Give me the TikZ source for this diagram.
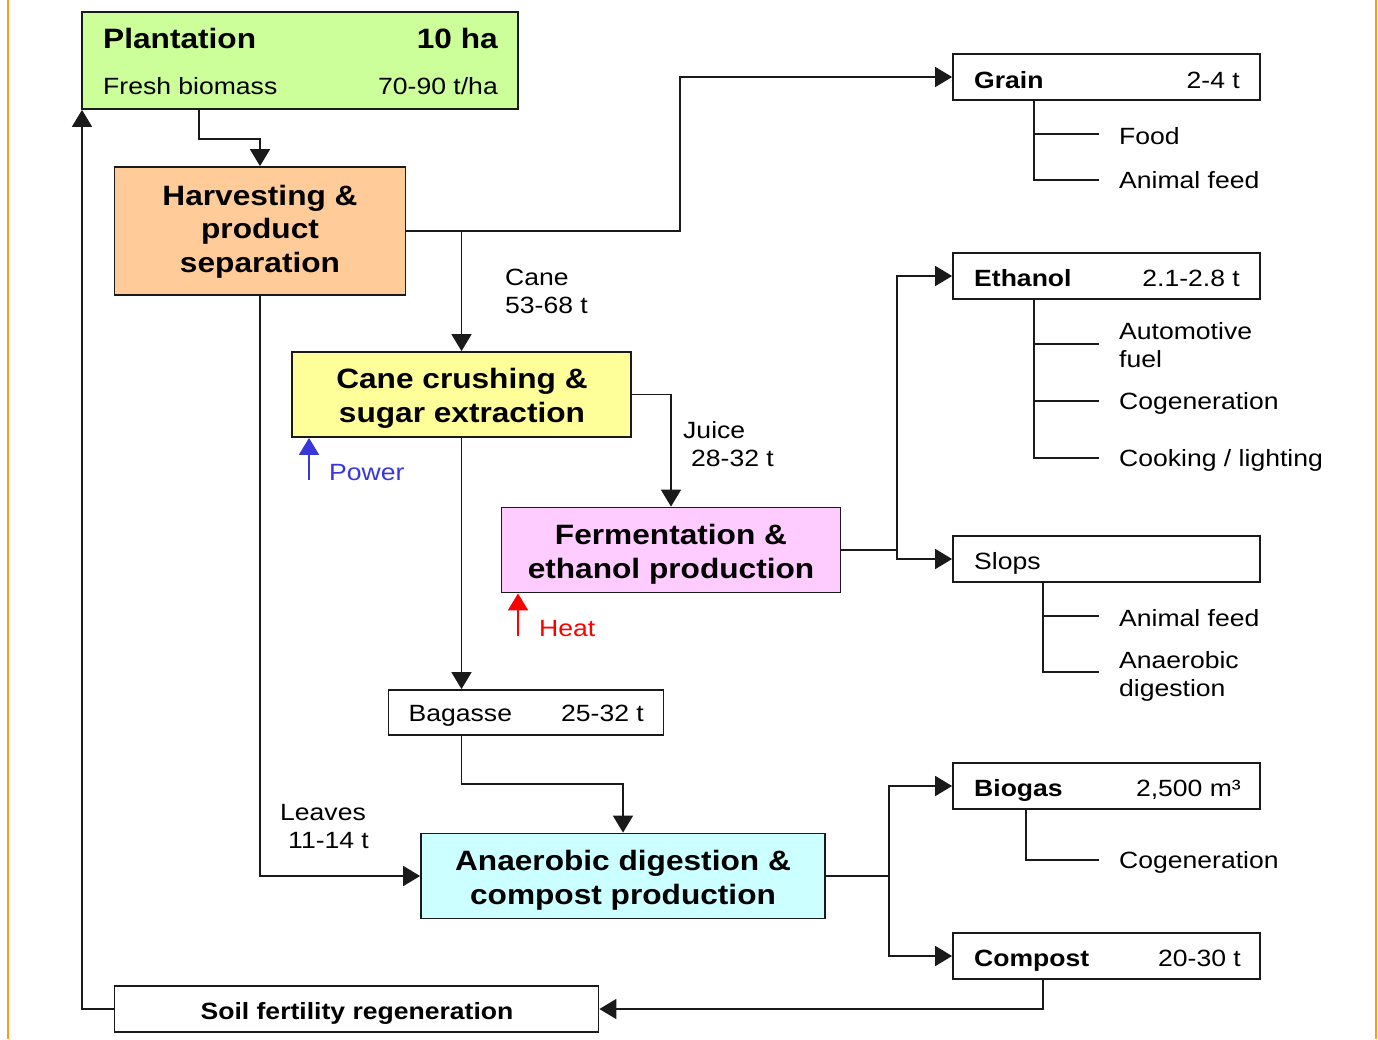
\documentclass[tikz,border=0pt]{standalone}
\usepackage{fontspec}
\setmainfont{Liberation Sans}[FakeStretch=1.13]
\usetikzlibrary{arrows.meta}
\definecolor{cgreen}{HTML}{CCFF99}
\definecolor{corange}{HTML}{FFCC99}
\definecolor{cyellow}{HTML}{FFFF99}
\definecolor{cpink}{HTML}{FFCCFF}
\definecolor{ccyan}{HTML}{CCFFFF}
\definecolor{lc}{HTML}{1A1A1A}
\definecolor{frame}{HTML}{F7A11A}
\definecolor{pblue}{HTML}{3838D8}
\definecolor{hred}{HTML}{FF0000}
\newcommand\fsr{\fontsize{23.5}{28}\selectfont}
\newcommand\fsb{\fontsize{23.5}{28}\selectfont\bfseries}
\newcommand\fsbig{\fontsize{28}{33.5}\selectfont\bfseries}
\begin{document}
\begin{tikzpicture}[x=1pt,y=-1pt,
  box/.style={draw=lc, line width=1.8pt, inner sep=0pt},
  con/.style={draw=lc, line width=1.8pt, line join=miter},
  arr/.style={con, -{Triangle[length=17pt,width=20pt]}},
  txt/.style={inner sep=0pt, anchor=base west, font=\fsr, align=left},
  txtr/.style={inner sep=0pt, anchor=base east, font=\fsr},
  btxt/.style={inner sep=0pt, anchor=base west, font=\fsb},
  ttl/.style={inner sep=0pt, anchor=base, align=center, font=\fsbig}]
\useasboundingbox (0,0) rectangle (1378,1039);
\fill[white] (0,0) rectangle (1378,1039);
\coordinate (fl1) at (8,0); \coordinate (fl2) at (8,1039);
\coordinate (fr1) at (1376,0); \coordinate (fr2) at (1376,1039);
\draw[frame, line width=2.5pt] (fl1) -- (fl2);
\draw[frame, line width=2.5pt] (fr1) -- (fr2);

% boxes
\node[box, fill=cgreen, minimum width=436pt, minimum height=97pt] (plant) at (300,60.5) {};
\node[box, fill=corange, minimum width=291pt, minimum height=128pt] (harv) at (260,231) {};
\node[box, fill=cyellow, minimum width=339pt, minimum height=85pt] (cane) at (461.5,394.5) {};
\node[box, fill=cpink, minimum width=339pt, minimum height=85pt] (ferm) at (671,550) {};
\node[box, fill=white, minimum width=275pt, minimum height=45pt] (bag) at (526,712.5) {};
\node[box, fill=ccyan, minimum width=404pt, minimum height=85pt] (anae) at (623,876) {};
\node[box, fill=white, minimum width=484pt, minimum height=46pt] (soil) at (356.5,1009) {};
\node[box, fill=white, minimum width=307pt, minimum height=46pt] (grain) at (1106.5,77) {};
\node[box, fill=white, minimum width=307pt, minimum height=46pt] (eth) at (1106.5,276) {};
\node[box, fill=white, minimum width=307pt, minimum height=46pt] (slops) at (1106.5,559) {};
\node[box, fill=white, minimum width=307pt, minimum height=46pt] (biogas) at (1106.5,786) {};
\node[box, fill=white, minimum width=307pt, minimum height=46pt] (compost) at (1106.5,956) {};

% texts in boxes (multi-line nodes: base = last line baseline)
\node[inner sep=0pt, anchor=base west, font=\fsbig] (plantT) at (103,48) {Plantation};
\node[inner sep=0pt, anchor=base east, font=\fsbig] (plantV) at (498,48) {10 ha};
\node[txt] (plantF) at (103,94) {Fresh biomass};
\node[txtr] (plantR) at (498,94) {70-90 t/ha};
\node[ttl] (harvT) at (260,272) {Harvesting \&\\product\\separation};
\node[ttl] (caneT) at (462,422) {Cane crushing \&\\sugar extraction};
\node[ttl] (fermT) at (671,578) {Fermentation \&\\ethanol production};
\node[ttl] (anaeT) at (623,904) {Anaerobic digestion \&\\compost production};
\node[inner sep=0pt, anchor=base, font=\fsb] (soilT) at (357,1019) {Soil fertility regeneration};
\node[txt] (bagT) at (408.5,721) {Bagasse};
\node[txtr] (bagV) at (644,721) {25-32 t};
\node[btxt] (grainT) at (974,88) {Grain};
\node[txtr] (grainV) at (1240,88) {2-4 t};
\node[btxt] (ethT) at (974,286) {Ethanol};
\node[txtr] (ethV) at (1240,286) {2.1-2.8 t};
\node[txt] (slopsT) at (974,569) {Slops};
\node[btxt] (bioT) at (974,796) {Biogas};
\node[txtr] (bioV) at (1241,796) {2,500 m³};
\node[btxt] (compT) at (974,966) {Compost};
\node[txtr] (compV) at (1241,966) {20-30 t};

% flow labels
\node[txt] (caneL) at (505,313.5) {Cane\\53-68 t};
\node[txt] (juiceL) at (683,466) {Juice\\\hspace*{8pt}28-32 t};
\node[txt] (leavesL) at (280,848) {Leaves\\\hspace*{8pt}11-14 t};
\node[txt, text=pblue] (powerL) at (329,480) {Power};
\node[txt, text=hred] (heatL) at (539,636) {Heat};

% use labels
\node[txt] (food) at (1119,144) {Food};
\node[txt] (feed1) at (1119,188.5) {Animal feed};
\node[txt] (auto) at (1119,367) {Automotive\\fuel};
\node[txt] (cogen1) at (1119,409.5) {Cogeneration};
\node[txt] (cook) at (1119,466) {Cooking / lighting};
\node[txt] (feed2) at (1119,626) {Animal feed};
\node[txt] (anaer) at (1119,696) {Anaerobic\\digestion};
\node[txt] (cogen2) at (1119,868.5) {Cogeneration};

% junction coordinates
\coordinate (p1) at (199,139);
\coordinate (g1) at (680,0);
\coordinate (b1) at (0,784);
\coordinate (f1) at (897,0);
\coordinate (a1) at (889,0);
\coordinate (c1) at (1043,0);
\coordinate (s1) at (82,0);
\coordinate (pw) at (309,480);
\coordinate (ht) at (518,636);

% connectors
\draw[arr] (p1 |- plant.south) -- (p1) -| (harv.north);
\draw[arr] (harv.east) -| (g1 |- grain.west) -- (grain.west);
\draw[arr] (harv.east -| cane.north) -- (cane.north);
\draw[arr] (harv.south) |- (anae.west);
\draw[arr] (cane.east) -| (ferm.north);
\draw[arr] (cane.south) -- (cane.south |- bag.north);
\draw[arr] (cane.south |- bag.south) -- (cane.south |- b1) -| (anae.north);
\draw[con] (ferm.east) -- (ferm.east -| f1);
\draw[arr] (ferm.east -| f1) |- (eth.west);
\draw[arr] (ferm.east -| f1) |- (slops.west);
\draw[con] (anae.east) -- (anae.east -| a1);
\draw[arr] (anae.east -| a1) |- (biogas.west);
\draw[arr] (anae.east -| a1) |- (compost.west);
\draw[arr] (compost.south -| c1) |- (soil.east);
\draw[arr] (soil.west) -| (s1 |- plant.south);
\draw[arr, draw=pblue] (pw) -- (pw |- cane.south);
\draw[arr, draw=hred] (ht) -- (ht |- ferm.south);

% trees
\coordinate (gt) at (1034,0);
\coordinate (gt1) at (1099,134);
\coordinate (gt2) at (1099,180);
\draw[con] (grain.south -| gt) |- (gt2);
\draw[con] (gt1 -| gt) -- (gt1);
\coordinate (et1) at (1099,344);
\coordinate (et2) at (1099,401);
\coordinate (et3) at (1099,458);
\draw[con] (eth.south -| gt) |- (et3);
\draw[con] (et1 -| gt) -- (et1);
\draw[con] (et2 -| gt) -- (et2);
\coordinate (st) at (1043,0);
\coordinate (st1) at (1099,616);
\coordinate (st2) at (1099,672);
\draw[con] (slops.south -| st) |- (st2);
\draw[con] (st1 -| st) -- (st1);
\coordinate (bt) at (1026,0);
\coordinate (bt1) at (1099,860);
\draw[con] (biogas.south -| bt) |- (bt1);
\end{tikzpicture}
\end{document}
